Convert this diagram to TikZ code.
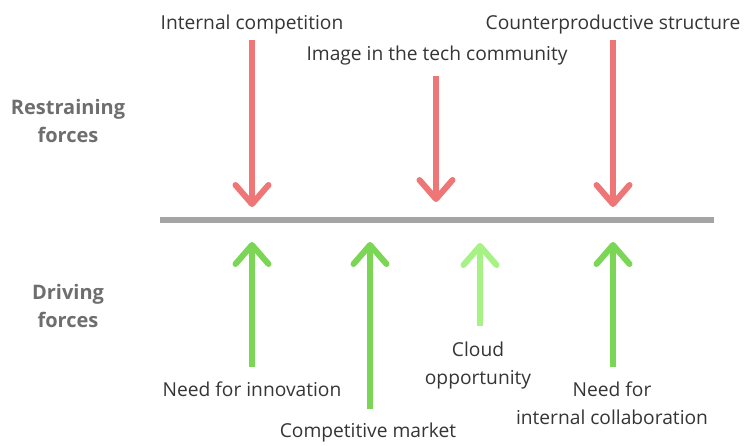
\documentclass[tikz,border=0pt]{standalone}
\usepackage{fontspec}
\setmainfont{Open Sans}
\usetikzlibrary{arrows.meta}
\definecolor{redarrow}{HTML}{EF7676}
\definecolor{greenarrow}{HTML}{7AD654}
\definecolor{lightgreen}{HTML}{A7F285}
\definecolor{axisgray}{HTML}{A4A4A4}
\definecolor{labeltext}{HTML}{353535}
\definecolor{sidetext}{HTML}{6E6E6E}
\tikzset{
  force/.style={line width=6pt, -{Straight Barb[length=19pt,width=33pt,round]}},
  restrain/.style={force, draw=redarrow},
  drive/.style={force, draw=greenarrow},
  weakdrive/.style={force, draw=lightgreen},
  lbl/.style={anchor=base, inner sep=0pt, text=labeltext, align=center,
    font=\fontsize{19.2}{28}\selectfont},
  side/.style={anchor=base, inner sep=0pt, text=sidetext, align=center,
    font=\fontsize{20}{28}\selectfont\bfseries},
}
\begin{document}
\begin{tikzpicture}[x=1pt,y=-1pt]
\useasboundingbox (0,0) rectangle (744,445);
% axis line
\coordinate (axL) at (160,220);
\coordinate (axR) at (714,220);
\draw[draw=axisgray, line width=5.5pt] (axL) -- (axR);
% side labels (anchor = baseline of last line)
\node[side] (restr) at (68,142) {Restraining\\forces};
\node[side] (driv) at (68,327) {Driving\\forces};
% restraining labels
\node[lbl] (ic) at (252,29) {Internal competition};
\node[lbl] (img) at (437,60) {Image in the tech community};
\node[lbl] (cs) at (613,29) {Counterproductive structure};
% restraining arrows
\coordinate (r1s) at (252,40);  \coordinate (r1e) at (252,207);
\coordinate (r2s) at (436,76);  \coordinate (r2e) at (436,202);
\coordinate (r3s) at (613,40);  \coordinate (r3e) at (613,207);
\draw[restrain] (r1s) -- (r1e);
\draw[restrain] (r2s) -- (r2e);
\draw[restrain] (r3s) -- (r3e);
% driving arrows
\coordinate (d1s) at (252,367); \coordinate (d1e) at (252,242);
\coordinate (d2s) at (370,409); \coordinate (d2e) at (370,242);
\coordinate (d3s) at (480,326); \coordinate (d3e) at (480,243);
\coordinate (d4s) at (613,367); \coordinate (d4e) at (613,242);
\draw[drive] (d1s) -- (d1e);
\draw[drive] (d2s) -- (d2e);
\draw[weakdrive] (d3s) -- (d3e);
\draw[drive] (d4s) -- (d4e);
% driving labels
\node[lbl] (nfi) at (252,396) {Need for innovation};
\node[lbl] (cm) at (368,437) {Competitive market};
\node[lbl] (co) at (478,384) {Cloud\\opportunity};
\node[lbl] (nic) at (612,424) {Need for\\internal collaboration};
\end{tikzpicture}
\end{document}
